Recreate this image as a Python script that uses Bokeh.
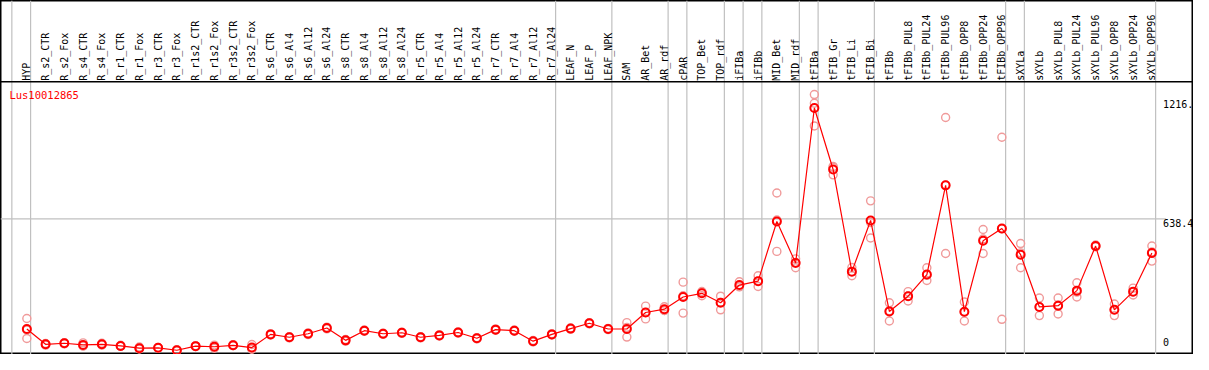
import math
from bokeh.plotting import figure
from bokeh.models import Range1d
from bokeh.core.properties import value
from bokeh.embed import file_html
from bokeh.resources import INLINE

categories = [
    "HYP", "R_s2_CTR", "R_s2_Fox", "R_s4_CTR", "R_s4_Fox", "R_r1_CTR", "R_r1_Fox",
    "R_r3_CTR", "R_r3_Fox", "R_r1s2_CTR", "R_r1s2_Fox", "R_r3s2_CTR", "R_r3s2_Fox",
    "R_s6_CTR", "R_s6_Al4", "R_s6_Al12", "R_s6_Al24", "R_s8_CTR", "R_s8_Al4",
    "R_s8_Al12", "R_s8_Al24", "R_r5_CTR", "R_r5_Al4", "R_r5_Al12", "R_r5_Al24",
    "R_r7_CTR", "R_r7_Al4", "R_r7_Al12", "R_r7_Al24", "LEAF_N", "LEAF_P", "LEAF_NPK",
    "SAM", "AR_Bet", "AR_rdf", "cPAR", "TOP_Bet", "TOP_rdf", "iFIBa", "iFIBb",
    "MID_Bet", "MID_rdf", "tFIBa", "tFIB_Gr", "tFIB_Li", "tFIB_Bi", "tFIBb",
    "tFIBb_PUL8", "tFIBb_PUL24", "tFIBb_PUL96", "tFIBb_OPP8", "tFIBb_OPP24",
    "tFIBb_OPP96", "sXYLa", "sXYLb", "sXYLb_PUL8", "sXYLb_PUL24", "sXYLb_PUL96",
    "sXYLb_OPP8", "sXYLb_OPP24", "sXYLb_OPP96",
]

means = [105, 31, 36, 28, 31, 23, 12, 14, 2, 22, 19, 26, 15, 79, 65, 82, 110, 50, 97,
         82, 87, 65, 74, 88, 60, 102, 97, 46, 79, 107, 133, 105, 105, 185, 201, 260,
         278, 232, 318, 337, 626, 425, 1176, 878, 383, 631, 190, 264, 369, 801, 189,
         533, 592, 465, 212, 218, 291, 507, 198, 286, 473]

rep_a = [156, 35, 39, 38, 36, 26, 18, 16, 5, 24, 27, 29, 30, 82, 68, 86, 114, 54, 100,
         85, 90, 68, 77, 91, 63, 105, 100, 49, 82, 110, 136, 108, 136, 216, 213, 332,
         287, 264, 334, 363, 764, 445, 1241, 893, 403, 726, 232, 286, 402, 1130, 236,
         587, 1034, 519, 255, 255, 329, 512, 226, 303, 507]

rep_b = [59, 27, 33, 22, 27, 21, 8, 12, 0, 20, 12, 24, 8, 76, 62, 78, 106, 46, 94,
         79, 84, 62, 71, 85, 57, 99, 94, 43, 76, 104, 130, 102, 66, 154, 195, 182,
         266, 198, 309, 311, 481, 402, 1089, 852, 363, 546, 144, 241, 340, 471, 144,
         471, 152, 402, 170, 178, 260, 503, 170, 270, 434]

rep_c = [100, 31, 36, 24, 30, 23, 10, 14, 2, 22, 18, 26, 7, 79, 65, 82, 110, 50, 97,
         82, 87, 65, 74, 88, 60, 102, 97, 46, 79, 107, 133, 105, 113, 185, 195, 266,
         281, 234, 311, 337, 633, 428, 1199, 889, 383, 621, 194, 265, 365, 802, 187,
         541, 590, 474, 211, 221, 284, 506, 198, 285, 478]

group_sizes = [1, 28, 3, 3, 1, 2, 1, 1, 2, 1, 3, 7, 1, 7]

tick_values = [0, 638.4, 1216]
tick_labels = ["0", "638.4", "1216."]

gene_name = "Lus10012865"

# ---- layout ----
X0, X1 = -1.405, 62.22
Y0, Y1 = -18.5, 1696.8
HEADER_Y = 1302.7
LABEL_Y = 1307.6
FONT = value("DejaVu Sans Mono")

p = figure(width=1193, height=354, x_range=Range1d(X0, X1), y_range=Range1d(Y0, Y1),
           output_backend="svg", toolbar_location=None, min_border=0,
           background_fill_color="white", border_fill_color="white")
p.xaxis.visible = False
p.yaxis.visible = False
p.grid.visible = False
p.outline_line_color = "black"
p.outline_line_width = 2

idx = list(range(len(categories)))

# group separators (vertical grey lines)
bounds = [-1]
acc = -1
for g in group_sizes:
    acc += g
    bounds.append(acc)
gx = [b + 0.2 for b in bounds]
p.segment(x0=gx, y0=[Y0] * len(gx), x1=gx, y1=[Y1] * len(gx),
          line_color="#c0c0c0", line_width=1.2)

# horizontal grid at middle tick
p.segment(x0=[X0], y0=[tick_values[1]], x1=[60.75], y1=[tick_values[1]],
          line_color="#c0c0c0", line_width=1.2)

# header separator
p.segment(x0=[X0], y0=[HEADER_Y], x1=[X1], y1=[HEADER_Y], line_color="black", line_width=1.5)

# category labels (rotated)
p.text(x=idx, y=[LABEL_Y] * len(idx), text=categories, angle=math.pi / 2,
       text_align="left", text_baseline="middle", text_font=FONT,
       text_font_size="10px", text_color="black")

# gene name
p.text(x=[-0.93], y=[1268], text=[gene_name], text_align="left", text_baseline="top",
       text_font=FONT, text_font_size="10.5px", text_color="red")

# value labels on right
p.text(x=[60.6, 60.6, 60.6], y=[25, tick_values[1], tick_values[2]], text=tick_labels,
       text_align="left", text_baseline=["bottom", "top", "top"], text_font=FONT,
       text_font_size="10px", text_color="black")

# replicates
for reps in (rep_a, rep_b, rep_c):
    p.scatter(x=idx, y=reps, marker="circle", size=8, fill_color=None,
              line_color="#f09a9a", line_width=1.4)

# mean line and markers
p.line(x=idx, y=means, line_color="red", line_width=1.2)
p.scatter(x=idx, y=means, marker="circle", size=8, fill_color=None,
          line_color="red", line_width=2)

open("out.html", "w").write(file_html(p, INLINE))
